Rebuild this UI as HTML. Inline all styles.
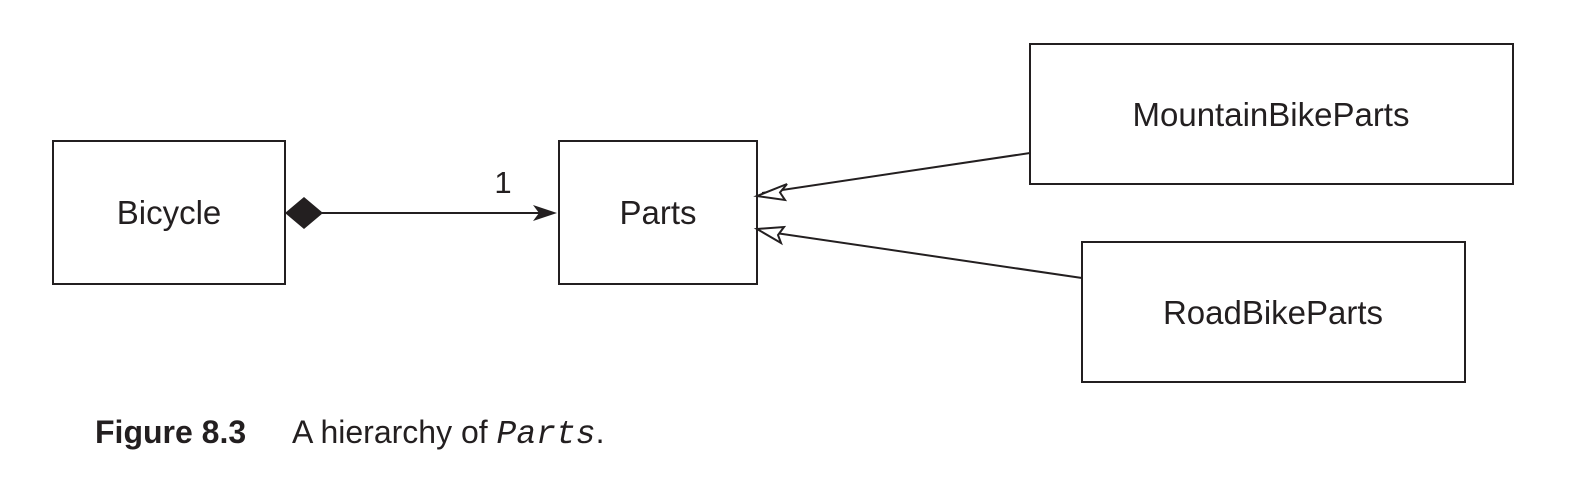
<!DOCTYPE html>
<html><head><meta charset="utf-8"><style>
html,body{margin:0;padding:0;background:#fff;width:1592px;height:496px;overflow:hidden}
</style></head><body>
<svg width="1592" height="496" xmlns="http://www.w3.org/2000/svg" font-family="Liberation Sans, sans-serif">
<g fill="none" stroke="#231f20" stroke-width="2">
<rect x="53" y="141" width="232" height="143"/>
<rect x="559" y="141" width="198" height="143"/>
<rect x="1030" y="44" width="483" height="140"/>
<rect x="1082" y="242" width="383" height="140"/>
<line x1="322" y1="213" x2="550" y2="213"/>
<line x1="762" y1="193" x2="1030" y2="153"/>
<line x1="762" y1="231" x2="1082" y2="278"/>
<path d="M757 196 L787 184 L780 192.5 L785 200 Z" fill="#fff" stroke-width="2"/>
<path d="M757 229 L784 227 L778 235 L781 243 Z" fill="#fff" stroke-width="2"/>
</g>
<path d="M285 213 L304 197 L323 213 L304 229 Z" fill="#231f20"/>
<path d="M557 213 L533 205 L539 213 L533 221 Z" fill="#231f20"/>
<g fill="#231f20" font-size="33" text-anchor="middle">
<text x="169" y="224">Bicycle</text>
<text x="658" y="224">Parts</text>
<text x="1271" y="126">MountainBikeParts</text>
<text x="1273" y="324">RoadBikeParts</text>
<text x="503" y="193" font-size="31">1</text>
</g>
<text x="95" y="443" font-size="32" fill="#231f20"><tspan font-weight="bold">Figure 8.3</tspan><tspan x="292">A hierarchy of </tspan><tspan font-family="Liberation Mono, monospace" font-style="italic" font-size="33">Parts</tspan><tspan>.</tspan></text>
</svg>
</body></html>
